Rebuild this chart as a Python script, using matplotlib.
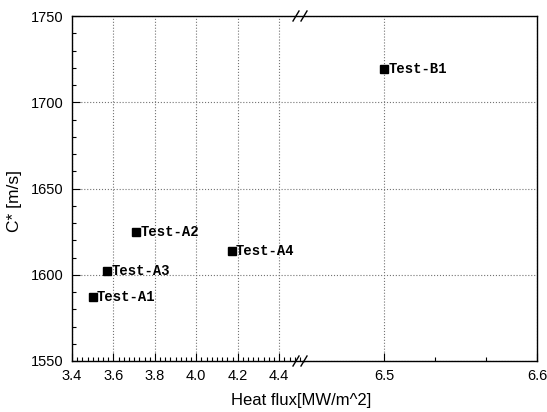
import numpy as np
import matplotlib
matplotlib.use('Agg')
import matplotlib.pyplot as plt
from matplotlib.ticker import MultipleLocator, FixedLocator
from matplotlib.lines import Line2D

# data
names = ['Test-A1', 'Test-A3', 'Test-A2', 'Test-A4', 'Test-B1']
heat_flux = [3.50, 3.57, 3.71, 4.17, 6.50]
c_star = [1587, 1602, 1625, 1614, 1719]

plt.rcParams['font.family'] = ['Liberation Sans', 'DejaVu Sans']

fig = plt.figure(figsize=(5.47, 4.12), dpi=100)
L, R, B, T = 72/547, 537/547, 1-361/412, 1-16/412
brk = 304/547
ax1 = fig.add_axes([L, B, brk-L, T-B])
ax2 = fig.add_axes([brk, B, R-brk, T-B])

ax1.set_xlim(3.4, 4.52)
ax2.set_xlim(6.4477, 6.6)
for ax in (ax1, ax2):
    ax.set_ylim(1550, 1750)
    ax.tick_params(which='both', direction='in', top=False, right=False, labelsize=10.5, colors='black')
    ax.tick_params(which='major', length=6, width=0.8)
    ax.tick_params(which='minor', length=3, width=0.8)
    ax.tick_params(axis='y', pad=6)
    ax.tick_params(axis='x', pad=6)
    ax.grid(True, which='major', linestyle=':', color='0.45', linewidth=0.8)
    for s in ax.spines.values():
        s.set_linewidth(1.0)

ax1.xaxis.set_major_locator(FixedLocator([3.4, 3.6, 3.8, 4.0, 4.2, 4.4]))
ax1.xaxis.set_major_formatter(plt.FormatStrFormatter('%.1f'))
ax1.xaxis.set_minor_locator(MultipleLocator(0.025))
ax1.yaxis.set_major_locator(MultipleLocator(50))
ax1.yaxis.set_minor_locator(MultipleLocator(10))
ax1.spines['right'].set_visible(False)

ax2.xaxis.set_major_locator(FixedLocator([6.5, 6.6]))
ax2.xaxis.set_major_formatter(plt.FormatStrFormatter('%.1f'))
ax2.xaxis.set_minor_locator(FixedLocator([6.5 + 0.1/3, 6.5 + 0.2/3]))
ax2.yaxis.set_major_locator(MultipleLocator(50))
ax2.spines['left'].set_visible(False)
ax2.tick_params(which='both', left=False, labelleft=False)

for n, x, y in zip(names, heat_flux, c_star):
    ax = ax1 if x < 5 else ax2
    ax.plot(x, y, 's', color='black', markersize=6)
    ax.annotate(n, (x, y), xytext=(3, 0), textcoords='offset points',
                va='center', ha='left', fontsize=10, fontweight='bold',
                family=['Liberation Mono', 'DejaVu Sans Mono'])

# break marks on the top and bottom spines
for yf in (B, T):
    for dx in (-5, 3):
        x0 = (298 + dx + 3) / 547
        fig.add_artist(Line2D([x0 - 3/547, x0 + 3/547], [yf - 5/412, yf + 5/412],
                              color='black', linewidth=1.0))

fig.text(15/547, 1 - 201/412, 'C* [m/s]', rotation=90, ha='center', va='center', fontsize=12.5)
fig.text(301/547, 1 - 400/412, 'Heat flux[MW/m^2]', ha='center', va='center', fontsize=12)

fig.savefig('out.png', dpi=100)
